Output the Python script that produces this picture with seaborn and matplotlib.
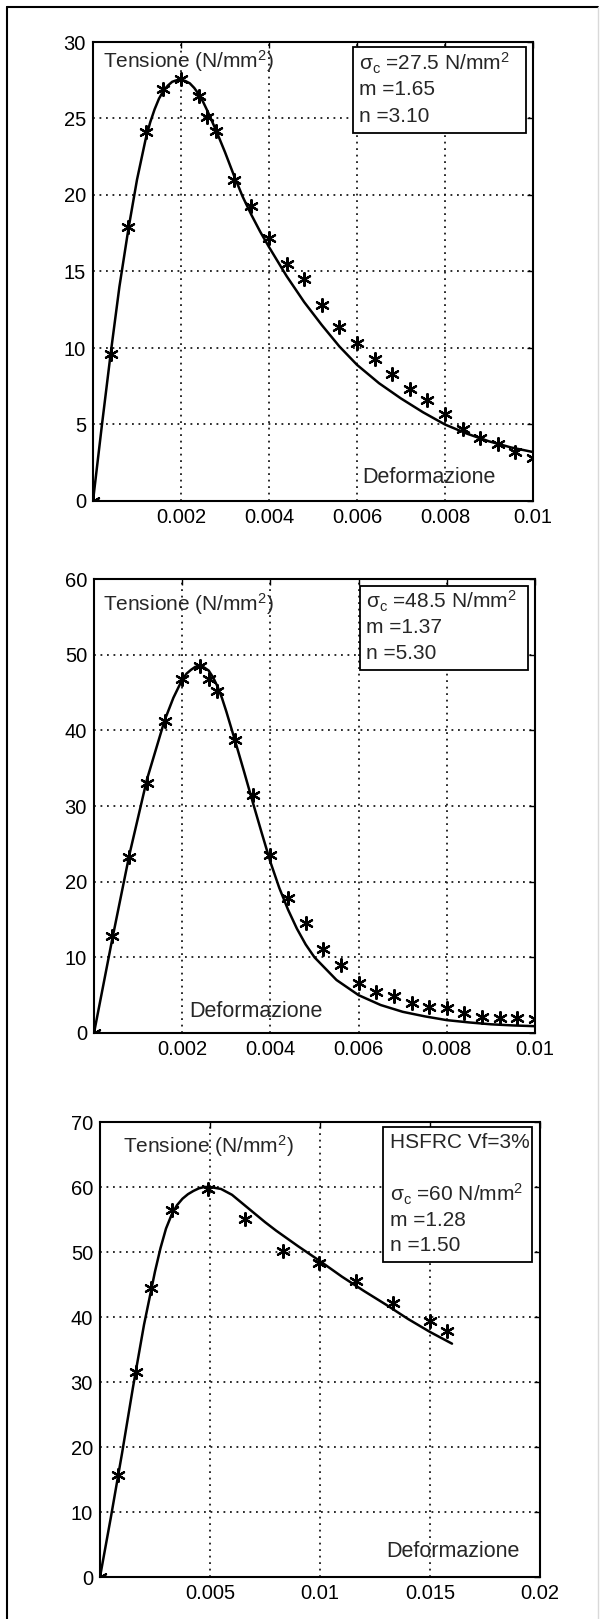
import matplotlib
matplotlib.use("Agg")
import matplotlib.pyplot as plt
import seaborn as sns
import numpy as np
from matplotlib.lines import Line2D
from matplotlib.patches import Rectangle

# ---------------- data ----------------
# Panel 1 (sigma_c = 27.5)
p1_exp_x = [0, 0.0004, 0.0008, 0.0012, 0.0016, 0.0020, 0.0024, 0.0026, 0.0028, 0.0032,
            0.0036, 0.0040, 0.0044, 0.0048, 0.0052, 0.0056, 0.0060, 0.0064, 0.0068,
            0.0072, 0.0076, 0.0080, 0.0084, 0.0088, 0.0092, 0.0096, 0.0100]
p1_exp_y = [0, 9.6, 17.9, 24.1, 26.9, 27.6, 26.5, 25.1, 24.2, 21.0,
            19.3, 17.2, 15.5, 14.5, 12.8, 11.4, 10.3, 9.3, 8.3,
            7.3, 6.6, 5.7, 4.7, 4.15, 3.75, 3.2, 2.8]
p1_fit_x = [0, 0.0002, 0.0004, 0.0006, 0.0008, 0.0010, 0.0012, 0.0013, 0.0014, 0.0015,
            0.0016, 0.0017, 0.0018, 0.0019, 0.0020, 0.0021, 0.0022, 0.0023, 0.0024,
            0.0025, 0.0026, 0.0028, 0.0030, 0.0032, 0.0034, 0.0036, 0.0038, 0.0040,
            0.0044, 0.0048, 0.0052, 0.0056, 0.0060, 0.0065, 0.0070, 0.0075, 0.0080,
            0.0085, 0.0090, 0.0095, 0.0100]
p1_fit_y = [0, 4.9, 9.6, 14.0, 17.7, 21.0, 23.7, 24.75, 25.6, 26.3,
            26.8, 27.15, 27.4, 27.5, 27.5, 27.45, 27.3, 27.0, 26.6,
            26.1, 25.5, 24.2, 22.8, 21.3, 19.9, 18.7, 17.6, 16.6,
            14.7, 13.0, 11.5, 10.1, 8.9, 7.7, 6.7, 5.8, 5.0,
            4.4, 3.9, 3.5, 3.2]

# Panel 2 (sigma_c = 48.5)
p2_exp_x = [0, 0.0004, 0.0008, 0.0012, 0.0016, 0.0020, 0.0024, 0.0026, 0.0028, 0.0032,
            0.0036, 0.0040, 0.0044, 0.0048, 0.0052, 0.0056, 0.0060, 0.0064, 0.0068,
            0.0072, 0.0076, 0.0080, 0.0084, 0.0088, 0.0092, 0.0096, 0.0100]
p2_exp_y = [0, 12.8, 23.2, 33.0, 41.2, 46.8, 48.5, 46.8, 45.2, 38.7,
            31.4, 23.5, 17.8, 14.5, 11.1, 9.0, 6.6, 5.4, 4.9,
            3.9, 3.5, 3.3, 2.6, 2.15, 2.0, 2.0, 1.85]
p2_fit_x = [0, 0.0004, 0.0008, 0.0012, 0.0016, 0.0018, 0.0020, 0.0021, 0.0022, 0.0023,
            0.0024, 0.0025, 0.0026, 0.0027, 0.0028, 0.0029, 0.0030, 0.0032, 0.0034,
            0.0036, 0.0038, 0.0040, 0.0042, 0.0044, 0.0046, 0.0048, 0.0050, 0.0055,
            0.0060, 0.0065, 0.0070, 0.0075, 0.0080, 0.0085, 0.0090, 0.0095, 0.0100]
p2_fit_y = [0, 12.0, 23.5, 33.5, 41.3, 44.3, 46.7, 47.5, 48.0, 48.4,
            48.5, 48.3, 47.9, 47.0, 45.8, 44.3, 42.5, 38.6, 34.6,
            30.5, 26.5, 22.6, 19.2, 16.3, 13.8, 11.7, 10.0, 7.0,
            5.0, 3.7, 2.8, 2.2, 1.7, 1.4, 1.15, 1.0, 0.9]

# Panel 3 (HSFRC Vf=3%)
p3_exp_x = [0, 0.00084, 0.00162, 0.0023, 0.00327, 0.00492, 0.0066, 0.00831, 0.00995,
            0.01165, 0.01332, 0.0150, 0.01578]
p3_exp_y = [0, 15.7, 31.6, 44.5, 56.4, 59.7, 55.1, 50.1, 48.3,
            45.6, 42.1, 39.4, 37.9]
p3_fit_x = [0, 0.0005, 0.0010, 0.0015, 0.0020, 0.0025, 0.00275, 0.0030, 0.00325, 0.0035,
            0.00375, 0.0040, 0.00425, 0.0045, 0.00475, 0.0050, 0.0055, 0.0060, 0.0065,
            0.0070, 0.0075, 0.0080, 0.0090, 0.0100, 0.0110, 0.0120, 0.0130, 0.0140,
            0.0150, 0.0160]
p3_fit_y = [0, 9.3, 19.0, 29.2, 38.8, 47.0, 50.6, 53.6, 55.7, 57.2,
            58.2, 58.9, 59.4, 59.8, 60.0, 60.0, 59.7, 58.8, 57.4,
            56.0, 54.6, 53.3, 50.9, 48.6, 46.2, 44.0, 41.9, 39.7,
            37.7, 35.9]

x_ticks_12 = [0.002, 0.004, 0.006, 0.008, 0.010]
x_labels_12 = ["0.002", "0.004", "0.006", "0.008", "0.01"]
x_ticks_3 = [0.005, 0.010, 0.015, 0.020]
x_labels_3 = ["0.005", "0.01", "0.015", "0.02"]
y_ticks_1 = [0, 5, 10, 15, 20, 25, 30]
y_ticks_2 = [0, 10, 20, 30, 40, 50, 60]
y_ticks_3 = [0, 10, 20, 30, 40, 50, 60, 70]

ylabel_text = "Tensione (N/mm$^2$)"
xlabel_text = "Deformazione"
box1 = ["\u03c3$_{\\rm c}$ =27.5 N/mm$^2$", "m =1.65", "n =3.10"]
box2 = ["\u03c3$_{\\rm c}$ =48.5 N/mm$^2$", "m =1.37", "n =5.30"]
box3 = ["HSFRC Vf=3%", "", "\u03c3$_{\\rm c}$ =60 N/mm$^2$", "m =1.28", "n =1.50"]

# ---------------- style ----------------
sns.set_style("white")
plt.rcParams['font.family'] = ['Liberation Sans', 'DejaVu Sans']
plt.rcParams['mathtext.fontset'] = 'custom'
plt.rcParams['mathtext.rm'] = 'Liberation Sans'
plt.rcParams['mathtext.it'] = 'Liberation Sans:italic'
plt.rcParams['mathtext.bf'] = 'Liberation Sans:bold'

W, H = 603, 1619
fig = plt.figure(figsize=(W / 100, H / 100), dpi=100)
fig.patch.set_facecolor("white")

def frac_rect(l, r, t, b):
    return [l / W, 1 - b / H, (r - l) / W, (b - t) / H]

panels = [
    dict(rect=frac_rect(93, 533, 42, 501), ex=p1_exp_x, ey=p1_exp_y, fx=p1_fit_x, fy=p1_fit_y,
         xlim=(0, 0.01), ylim=(0, 30), xt=x_ticks_12, xl=x_labels_12, yt=y_ticks_1,
         box=box1, bx=(0.591, 0.984, 0.802, 0.989), tens=(0.022, 0.958), defo=(0.764, 0.052)),
    dict(rect=frac_rect(94, 535, 579, 1033), ex=p2_exp_x, ey=p2_exp_y, fx=p2_fit_x, fy=p2_fit_y,
         xlim=(0, 0.01), ylim=(0, 60), xt=x_ticks_12, xl=x_labels_12, yt=y_ticks_2,
         box=box2, bx=(0.603, 0.983, 0.800, 0.985), tens=(0.020, 0.944), defo=(0.368, 0.047)),
    dict(rect=frac_rect(100, 540, 1122, 1577), ex=p3_exp_x, ey=p3_exp_y, fx=p3_fit_x, fy=p3_fit_y,
         xlim=(0, 0.02), ylim=(0, 70), xt=x_ticks_3, xl=x_labels_3, yt=y_ticks_3,
         box=box3, bx=(0.644, 0.982, 0.693, 0.989), tens=(0.053, 0.948), defo=(0.802, 0.056)),
]

for p in panels:
    ax = fig.add_axes(p["rect"])
    ax.set_facecolor("white")
    sns.lineplot(x=p["fx"], y=p["fy"], ax=ax, color="black", lw=1.8,
                 estimator=None, sort=False, zorder=3)
    sns.scatterplot(x=p["ex"], y=p["ey"], ax=ax, marker=(6, 2, 0), s=85,
                    color="black", edgecolor="black", linewidth=1.6, zorder=4)
    ax.set_xlim(*p["xlim"])
    ax.set_ylim(*p["ylim"])
    ax.set_xticks(p["xt"])
    ax.set_xticklabels(p["xl"])
    ax.set_yticks(p["yt"])
    ax.set_xlabel("")
    ax.set_ylabel("")
    ax.grid(True, linestyle=(0, (1.0, 2.6)), color="0.1", lw=1.3, zorder=1)
    ax.set_axisbelow(True)
    ax.tick_params(direction="in", top=True, right=True, length=4, width=1.0,
                   labelsize=14.5, pad=5, colors="black")
    for sp in ax.spines.values():
        sp.set_linewidth(1.5)
        sp.set_color("black")
        sp.set_visible(True)
    # parameter box
    l, r, b, t = p["bx"]
    ax.add_patch(Rectangle((l, b), r - l, t - b, transform=ax.transAxes,
                           facecolor="white", edgecolor="black", lw=1.3, zorder=5))
    n = len(p["box"])
    top_pad = 0.035
    step = (t - b - 2 * top_pad) / (n - 1) if n > 1 else 0
    for i, line in enumerate(p["box"]):
        ax.text(l + 0.014, t - top_pad - i * step, line, transform=ax.transAxes,
                ha="left", va="center", fontsize=15, zorder=6)
    ax.text(p["tens"][0], p["tens"][1], ylabel_text, transform=ax.transAxes,
            ha="left", va="center", fontsize=15, zorder=6)
    ax.text(p["defo"][0], p["defo"][1], xlabel_text, transform=ax.transAxes,
            ha="center", va="center", fontsize=15.5, zorder=6)

# outer page frame
fig.add_artist(Line2D([7 / W, 7 / W], [0, 1 - 7 / H], color="black", lw=1.5))
fig.add_artist(Line2D([7 / W, 598 / W], [1 - 7 / H, 1 - 7 / H], color="black", lw=1.5))
fig.add_artist(Line2D([598 / W, 598 / W], [0, 1 - 7 / H], color="0.85", lw=1.0))

fig.savefig("out.png", dpi=100, facecolor="white")
